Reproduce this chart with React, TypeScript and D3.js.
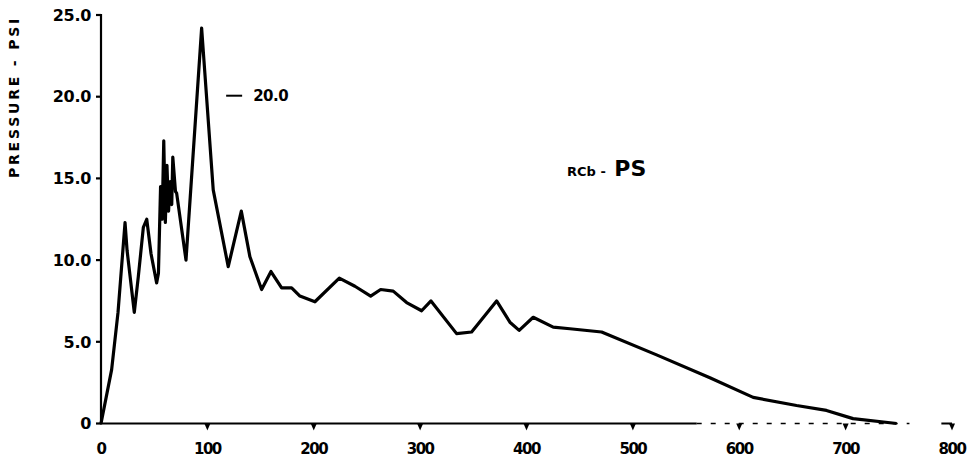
import React from "react";
import * as d3 from "d3";

const timeMs = [0, 10, 16, 22.6, 24.5, 31.3, 35.1, 39.8, 43, 47, 52.3, 54, 56, 57.5, 59, 60.5, 62, 63.5, 65, 66.5, 67.5, 70, 71.1, 79.9, 94.6, 96.8, 105.5, 119.6, 131.9, 140, 151, 159.8, 169.8, 179.2, 187, 201.1, 224, 238.7, 253.5, 262.9, 274.7, 287.3, 301.4, 310.2, 334.3, 348.4, 371.9, 384.4, 393.1, 406.3, 425.1, 440.8, 470.6, 522.3, 572.4, 613.1, 653.9, 682, 707, 748];
const pressurePsi = [0, 3.3, 6.8, 12.3, 10.6, 6.8, 9.0, 12.0, 12.5, 10.4, 8.6, 9.2, 14.5, 12.5, 17.3, 12.3, 15.8, 13.0, 14.8, 13.4, 16.3, 14.2, 14.1, 10.0, 24.2, 22.2, 14.3, 9.6, 13.0, 10.2, 8.2, 9.3, 8.3, 8.3, 7.8, 7.45, 8.9, 8.4, 7.8, 8.2, 8.1, 7.4, 6.9, 7.5, 5.5, 5.6, 7.5, 6.2, 5.7, 6.5, 5.9, 5.8, 5.6, 4.2, 2.8, 1.6, 1.1, 0.8, 0.3, 0];

const yTicks = [0, 5, 10, 15, 20, 25];
const yTickLabels = ["0", "5.0", "10.0", "15.0", "20.0", "25.0"];
const xTicks = [0, 100, 200, 300, 400, 500, 600, 700, 800];
const xTickLabels = ["0", "100", "200", "300", "400", "500", "600", "700", "800"];
const yTitle = "PRESSURE - PSI";
const annotationValue = "20.0";
const annotationX = 112;
const annotationY = 20;
const gaugeLabel = "RCb - ";
const gaugeLabel2 = "PS";

export default function App() {
  const W = 979, H = 463;
  const x = d3.scaleLinear().domain([0, 800]).range([101, 952]);
  const y = d3.scaleLinear().domain([0, 25]).range([423.5, 15]);
  const pts: [number, number][] = timeMs.map((t, i) => [t, pressurePsi[i]]);
  const line = d3.line<[number, number]>().x(d => x(d[0])).y(d => y(d[1]));
  const font = "'DejaVu Sans', sans-serif";
  return (
    <svg width={W} height={H} style={{ position: "absolute", left: 0, top: 0, background: "#fff" }}>
      {/* y axis */}
      <line x1={x(0)} x2={x(0)} y1={y(25) - 1} y2={y(0) + 1} stroke="#000" strokeWidth={2.2} />
      {yTicks.map((t, i) => (
        <g key={t}>
          <line x1={x(0) - 5} x2={x(0)} y1={y(t)} y2={y(t)} stroke="#000" strokeWidth={2.2} />
          <text x={x(0) - 10} y={y(t)} dy="0.36em" textAnchor="end" fontFamily={font} fontWeight="bold" fontSize={16} letterSpacing={-0.3}>{yTickLabels[i]}</text>
        </g>
      ))}
      {/* x axis */}
      <line x1={x(0)} x2={x(560)} y1={y(0)} y2={y(0)} stroke="#000" strokeWidth={2} />
      <line x1={x(560)} x2={x(760)} y1={y(0)} y2={y(0)} stroke="#000" strokeWidth={1.5} strokeDasharray="5 9" />
      <line x1={x(790)} x2={x(800)} y1={y(0)} y2={y(0)} stroke="#000" strokeWidth={2} />
      {xTicks.map((t, i) => (
        <g key={t}>
          {t > 0 && (
            <path d={`M${x(t) - 3},${y(0)} L${x(t) + 3},${y(0)} L${x(t)},${y(0) + 7} Z`} fill="#000" />
          )}
          <text x={x(t)} y={454} textAnchor="middle" fontFamily={font} fontWeight="bold" fontSize={15} letterSpacing={-1.5}>{xTickLabels[i]}</text>
        </g>
      ))}
      {/* y title */}
      <text transform={`translate(19, 97) rotate(-90)`} textAnchor="middle" fontFamily={font} fontWeight="bold" fontSize={14} letterSpacing={2.8}>{yTitle}</text>
      {/* data line */}
      <path d={line(pts) || ""} fill="none" stroke="#000" strokeWidth={3.2} strokeLinejoin="round" />
      {/* annotation */}
      <line x1={x(annotationX) + 6} x2={x(annotationX) + 22} y1={y(annotationY) - 1} y2={y(annotationY) - 1} stroke="#000" strokeWidth={2} />
      <text x={x(annotationX) + 33} y={y(annotationY) - 1} dy="0.36em" fontFamily={font} fontWeight="bold" fontSize={15} letterSpacing={-0.5}>{annotationValue}</text>
      {/* gauge label */}
      <text x={567} y={176} fontFamily={font} fontWeight="bold" fontSize={13}>
        {gaugeLabel}
        <tspan fontSize={22} fontWeight="900" dx={4}>{gaugeLabel2}</tspan>
      </text>
    </svg>
  );
}
